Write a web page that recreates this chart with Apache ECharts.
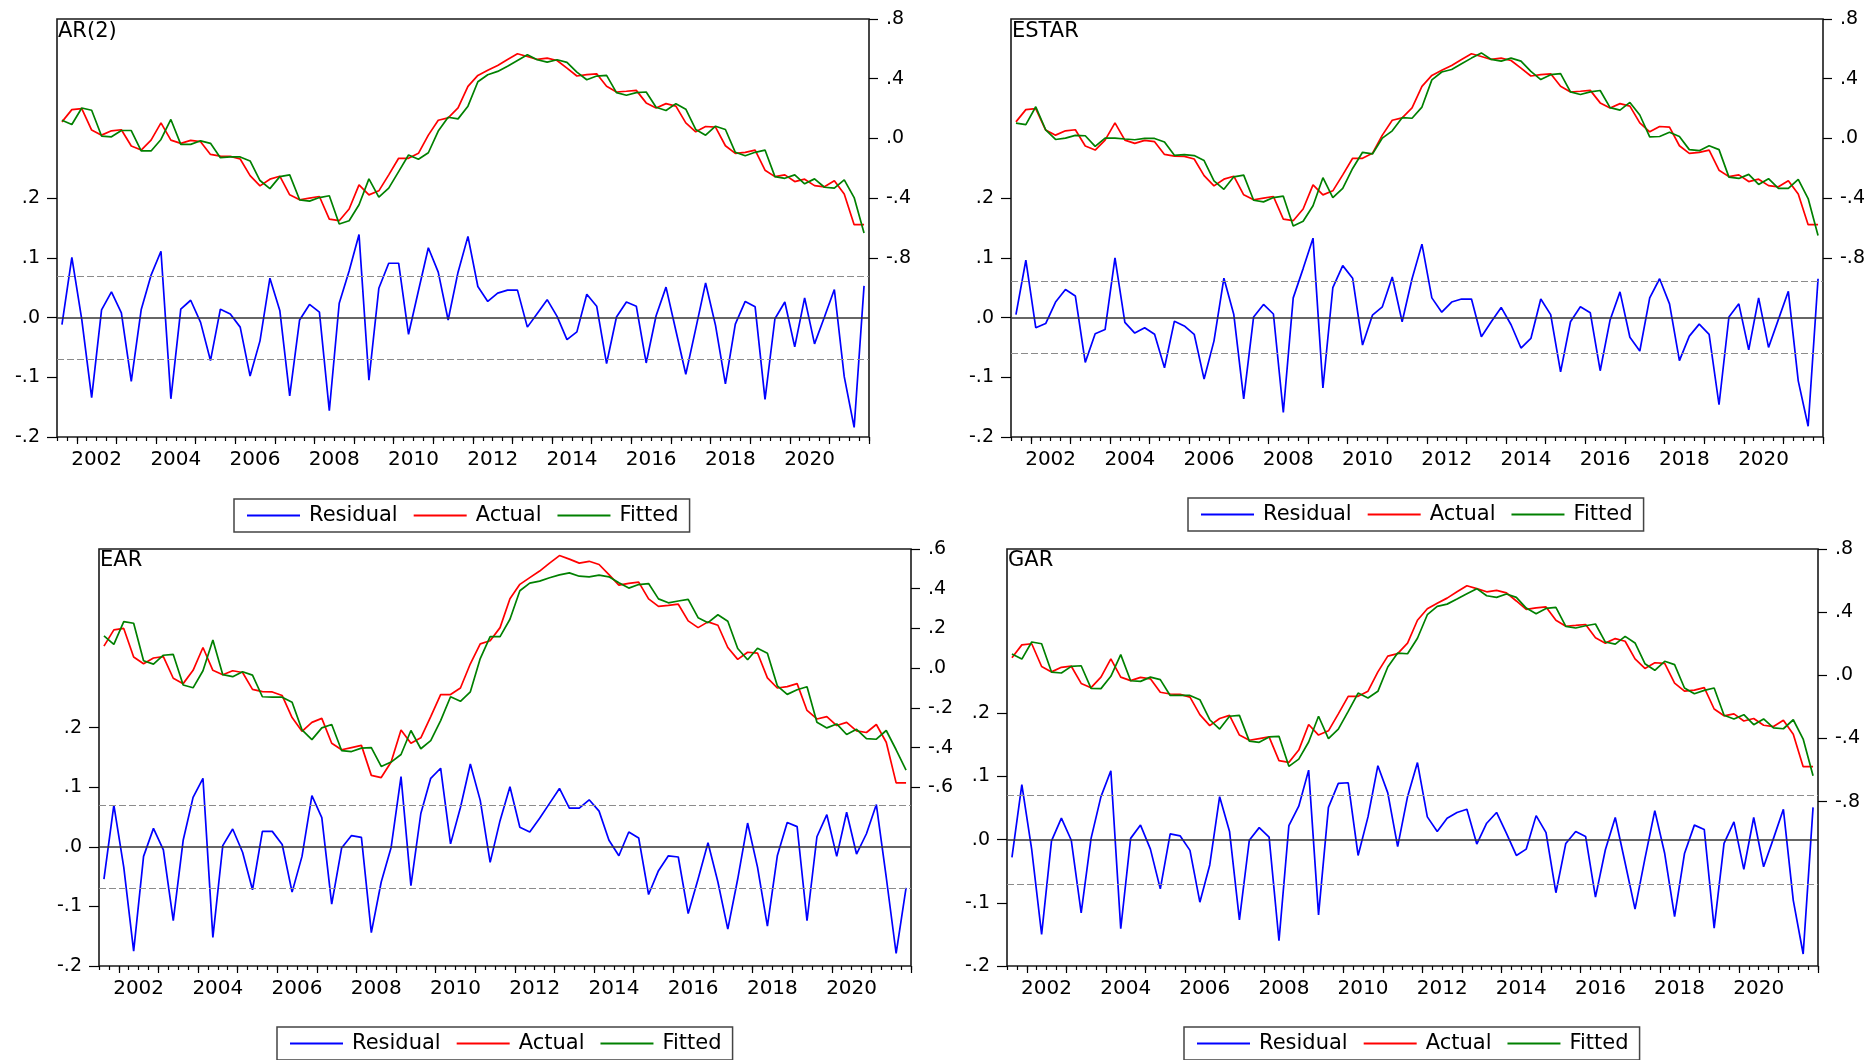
<!DOCTYPE html>
<html>
<head>
<meta charset="utf-8">
<script src="https://cdn.jsdelivr.net/npm/echarts@6/dist/echarts.min.js"></script>
<style>
  html, body { margin: 0; padding: 0; background: #fff; }
  #chart { width: 1869px; height: 1060px; }
</style>
</head>
<body>
<div id="chart"></div>
<script>
// Quarterly sample 2001Q3 - 2021Q4 (82 observations)
const FIRST_YEAR = 2001;
const FIRST_QUARTER = 3;
const N_OBS = 82;

const MODEL_NAMES = ['AR(2)', 'ESTAR', 'EAR', 'GAR'];
const SERIES_NAMES = ['Residual', 'Actual', 'Fitted'];

// Dependent variable (same in every model)
const ACTUAL = [
  0.111, 0.193, 0.200, 0.056, 0.022, 0.051, 0.058, -0.051, -0.078, -0.011,
  0.104, -0.011, -0.033, -0.013, -0.022, -0.107, -0.118, -0.120, -0.138, -0.249,
  -0.318, -0.273, -0.253, -0.378, -0.411, -0.400, -0.389, -0.540, -0.551, -0.473,
  -0.311, -0.378, -0.351, -0.244, -0.133, -0.133, -0.100, 0.022, 0.122, 0.138,
  0.204, 0.349, 0.422, 0.456, 0.489, 0.529, 0.567, 0.549, 0.529, 0.538,
  0.522, 0.471, 0.418, 0.427, 0.433, 0.349, 0.311, 0.316, 0.322, 0.238,
  0.204, 0.233, 0.216, 0.104, 0.044, 0.080, 0.076, -0.049, -0.100, -0.093,
  -0.078, -0.213, -0.256, -0.244, -0.289, -0.273, -0.316, -0.324, -0.284, -0.373,
  -0.578, -0.578
];

const FITTED_AR2 = [
  0.122, 0.093, 0.204, 0.189, 0.016, 0.011, 0.053, 0.053, -0.084, -0.084,
  -0.007, 0.127, -0.040, -0.040, -0.016, -0.033, -0.129, -0.124, -0.124, -0.151,
  -0.282, -0.336, -0.256, -0.244, -0.411, -0.420, -0.396, -0.384, -0.573, -0.551,
  -0.444, -0.271, -0.393, -0.333, -0.222, -0.111, -0.140, -0.096, 0.049, 0.142,
  0.131, 0.216, 0.380, 0.427, 0.449, 0.484, 0.522, 0.560, 0.527, 0.511,
  0.527, 0.509, 0.444, 0.393, 0.418, 0.422, 0.307, 0.289, 0.307, 0.311,
  0.209, 0.187, 0.233, 0.196, 0.060, 0.022, 0.082, 0.060, -0.093, -0.116,
  -0.093, -0.078, -0.256, -0.267, -0.244, -0.304, -0.271, -0.327, -0.333, -0.278,
  -0.396, -0.633
];
const RESIDUAL_AR2 = [
  -0.012, 0.101, -0.003, -0.134, 0.013, 0.043, 0.008, -0.107, 0.013, 0.071,
  0.111, -0.136, 0.014, 0.029, -0.008, -0.072, 0.014, 0.006, -0.016, -0.098,
  -0.039, 0.066, 0.012, -0.131, -0.004, 0.022, 0.009, -0.156, 0.024, 0.078,
  0.139, -0.105, 0.049, 0.091, 0.091, -0.028, 0.045, 0.117, 0.076, -0.004,
  0.076, 0.136, 0.052, 0.027, 0.041, 0.046, 0.046, -0.016, 0.007, 0.030,
  0.002, -0.037, -0.024, 0.039, 0.019, -0.077, 0.001, 0.026, 0.019, -0.076,
  0.003, 0.051, -0.022, -0.095, -0.019, 0.058, -0.013, -0.111, -0.011, 0.027,
  0.018, -0.137, -0.002, 0.026, -0.049, 0.033, -0.044, 0.001, 0.047, -0.099,
  -0.184, 0.053
];

const FITTED_ESTAR = [
  0.102, 0.093, 0.212, 0.058, -0.007, 0.002, 0.020, 0.018, -0.053, 0.002,
  0.002, -0.004, -0.009, 0.000, 0.000, -0.024, -0.113, -0.108, -0.115, -0.148,
  -0.285, -0.341, -0.257, -0.246, -0.414, -0.425, -0.396, -0.387, -0.586, -0.555,
  -0.451, -0.263, -0.396, -0.334, -0.201, -0.093, -0.104, 0.002, 0.051, 0.139,
  0.135, 0.210, 0.392, 0.445, 0.462, 0.500, 0.538, 0.573, 0.529, 0.518,
  0.538, 0.518, 0.449, 0.394, 0.427, 0.434, 0.312, 0.294, 0.312, 0.321,
  0.206, 0.190, 0.241, 0.157, 0.011, 0.013, 0.042, 0.013, -0.075, -0.082,
  -0.049, -0.075, -0.259, -0.268, -0.241, -0.308, -0.270, -0.334, -0.334, -0.274,
  -0.403, -0.650
];
const RESIDUAL_ESTAR = [
  0.005, 0.096, -0.017, -0.010, 0.026, 0.047, 0.036, -0.075, -0.027, -0.020,
  0.100, -0.008, -0.026, -0.017, -0.028, -0.084, -0.006, -0.014, -0.028, -0.103,
  -0.039, 0.066, 0.005, -0.136, 0.001, 0.022, 0.006, -0.159, 0.033, 0.082,
  0.133, -0.118, 0.050, 0.087, 0.066, -0.046, 0.004, 0.018, 0.068, -0.007,
  0.065, 0.123, 0.033, 0.009, 0.026, 0.031, 0.031, -0.032, -0.007, 0.017,
  -0.012, -0.051, -0.035, 0.031, 0.005, -0.091, -0.007, 0.018, 0.008, -0.089,
  -0.004, 0.043, -0.033, -0.056, 0.033, 0.065, 0.023, -0.072, -0.031, -0.011,
  -0.028, -0.146, 0.001, 0.023, -0.054, 0.033, -0.050, -0.003, 0.044, -0.106,
  -0.182, 0.065
];

const FITTED_EAR = [
  0.162, 0.120, 0.234, 0.226, 0.037, 0.020, 0.065, 0.069, -0.085, -0.099,
  -0.013, 0.142, -0.033, -0.043, -0.018, -0.035, -0.144, -0.146, -0.146, -0.172,
  -0.311, -0.360, -0.301, -0.284, -0.415, -0.420, -0.403, -0.400, -0.495, -0.473,
  -0.435, -0.314, -0.406, -0.365, -0.264, -0.144, -0.167, -0.119, 0.048, 0.159,
  0.159, 0.246, 0.390, 0.428, 0.438, 0.455, 0.470, 0.480, 0.463, 0.460,
  0.468, 0.460, 0.430, 0.403, 0.421, 0.426, 0.349, 0.329, 0.338, 0.346,
  0.254, 0.229, 0.269, 0.236, 0.099, 0.042, 0.100, 0.075, -0.089, -0.132,
  -0.109, -0.094, -0.273, -0.301, -0.281, -0.334, -0.308, -0.355, -0.358, -0.314,
  -0.411, -0.513
];
const RESIDUAL_EAR = [
  -0.054, 0.070, -0.034, -0.175, -0.016, 0.031, -0.005, -0.124, 0.011, 0.083,
  0.115, -0.152, 0.002, 0.030, -0.009, -0.072, 0.026, 0.026, 0.004, -0.076,
  -0.016, 0.086, 0.049, -0.096, -0.002, 0.019, 0.016, -0.144, -0.059, -0.001,
  0.118, -0.065, 0.056, 0.115, 0.132, 0.005, 0.066, 0.139, 0.078, -0.026,
  0.044, 0.101, 0.033, 0.025, 0.048, 0.073, 0.098, 0.065, 0.065, 0.079,
  0.060, 0.011, -0.015, 0.025, 0.015, -0.080, -0.040, -0.015, -0.017, -0.112,
  -0.054, 0.007, -0.059, -0.138, -0.054, 0.040, -0.034, -0.133, -0.015, 0.041,
  0.034, -0.124, 0.017, 0.054, -0.016, 0.058, -0.012, 0.022, 0.071, -0.051,
  -0.179, -0.069
];

const FITTED_GAR = [
  0.135, 0.103, 0.211, 0.200, 0.021, 0.015, 0.057, 0.061, -0.082, -0.084,
  -0.006, 0.131, -0.034, -0.038, -0.011, -0.027, -0.127, -0.127, -0.127, -0.154,
  -0.281, -0.340, -0.259, -0.253, -0.416, -0.424, -0.390, -0.386, -0.576, -0.530,
  -0.422, -0.259, -0.401, -0.340, -0.228, -0.112, -0.143, -0.101, 0.053, 0.141,
  0.137, 0.235, 0.384, 0.437, 0.451, 0.483, 0.517, 0.549, 0.504, 0.494,
  0.515, 0.494, 0.426, 0.390, 0.424, 0.430, 0.310, 0.300, 0.314, 0.325,
  0.211, 0.198, 0.247, 0.205, 0.074, 0.032, 0.089, 0.068, -0.080, -0.116,
  -0.095, -0.080, -0.253, -0.276, -0.249, -0.312, -0.276, -0.333, -0.338, -0.281,
  -0.403, -0.635
];
const RESIDUAL_GAR = [
  -0.028, 0.087, -0.016, -0.150, -0.002, 0.034, -0.001, -0.116, 0.002, 0.068,
  0.109, -0.141, 0.002, 0.023, -0.015, -0.078, 0.009, 0.006, -0.017, -0.099,
  -0.040, 0.068, 0.013, -0.127, -0.001, 0.019, 0.004, -0.160, 0.022, 0.053,
  0.110, -0.119, 0.051, 0.089, 0.090, -0.025, 0.036, 0.117, 0.074, -0.011,
  0.068, 0.122, 0.036, 0.013, 0.034, 0.043, 0.048, -0.007, 0.026, 0.043,
  0.010, -0.025, -0.015, 0.038, 0.011, -0.084, -0.006, 0.013, 0.005, -0.091,
  -0.016, 0.035, -0.037, -0.110, -0.030, 0.046, -0.022, -0.122, -0.022, 0.023,
  0.016, -0.140, -0.006, 0.028, -0.047, 0.035, -0.043, 0.002, 0.048, -0.096,
  -0.181, 0.051
];

const FITTED = [FITTED_AR2, FITTED_ESTAR, FITTED_EAR, FITTED_GAR];
const RESIDUALS = [RESIDUAL_AR2, RESIDUAL_ESTAR, RESIDUAL_EAR, RESIDUAL_GAR];

// +/- one standard error band of the residuals
const RESIDUAL_SD = [0.068, 0.063, 0.073, 0.069];

// Axis tick labels
const LEFT_TICKS = [-0.2, -0.1, 0, 0.1, 0.2];
const RIGHT_TICKS = [
  [-0.8, -0.4, 0, 0.4, 0.8],
  [-0.8, -0.4, 0, 0.4, 0.8],
  [-0.6, -0.4, -0.2, 0, 0.2, 0.4, 0.6],
  [-0.8, -0.4, 0, 0.4, 0.8]
];
const YEAR_LABELS = [2002, 2004, 2006, 2008, 2010, 2012, 2014, 2016, 2018, 2020];

// ---- layout (pixels) ----
const PANELS = [
  { left: 57,   top: 19,  width: 812, height: 418, leftRange: [-0.2, 0.5],  rightRange: [-2.0, 0.8],  legend: [234, 499],  title: [58, 21] },
  { left: 1011, top: 19,  width: 812, height: 418, leftRange: [-0.2, 0.5],  rightRange: [-2.0, 0.8],  legend: [1188, 498], title: [1012, 21] },
  { left: 99,   top: 549, width: 812, height: 417, leftRange: [-0.2, 0.5],  rightRange: [-1.5, 0.6],  legend: [277, 1027], title: [100, 550] },
  { left: 1007, top: 549, width: 811, height: 417, leftRange: [-0.2, 0.46], rightRange: [-1.84, 0.8], legend: [1184, 1027], title: [1008, 550] }
];

const FONT = 'DejaVu Sans';
const COLORS = { Residual: '#0000ff', Actual: '#ff0000', Fitted: '#008000' };

// Quarter labels and their mid-period positions on a continuous time scale
const quarters = [];
const quarterPos = [];
for (let k = 0; k < N_OBS; k++) {
  const q0 = (FIRST_QUARTER - 1) + k;
  const year = FIRST_YEAR + Math.floor(q0 / 4);
  const q = (q0 % 4) + 1;
  quarters.push(year + 'Q' + q);
  quarterPos.push(year + (q - 0.5) / 4);
}
const X_MIN = FIRST_YEAR + (FIRST_QUARTER - 1) / 4;
const X_MAX = X_MIN + N_OBS / 4;
const quarterTicks = [];
for (let k = 0; k <= N_OBS; k++) quarterTicks.push(X_MIN + k / 4);
const yearTicks = [];
for (let y = Math.ceil(X_MIN); y <= X_MAX; y++) yearTicks.push(y);
const yearLabelPos = YEAR_LABELS.map(y => y + 0.5);

function decimalLabel(v) {
  const a = Math.abs(v).toFixed(1).replace(/^0/, '');
  return (v < -1e-9 ? '-' : '') + a;
}
const pairs = arr => arr.map((v, i) => [quarterPos[i], v]);

const option = {
  backgroundColor: '#ffffff',
  animation: false,
  title: [], legend: [], grid: [], xAxis: [], yAxis: [], series: []
};

PANELS.forEach((p, i) => {
  option.grid.push({
    left: p.left, top: p.top, width: p.width, height: p.height,
    show: true, borderColor: '#1a1a1a', borderWidth: 1.6, backgroundColor: 'transparent'
  });

  option.title.push({
    text: MODEL_NAMES[i], left: p.title[0], top: p.title[1], padding: 0,
    textStyle: { fontFamily: FONT, fontSize: 21, fontWeight: 'normal', color: '#000' }
  });

  option.legend.push({
    data: SERIES_NAMES, left: p.legend[0], top: p.legend[1], orient: 'horizontal',
    selectedMode: false, icon: 'rect', itemWidth: 53, itemHeight: 2, itemGap: 16,
    padding: [6, 11, 6, 13], borderColor: '#444', borderWidth: 1.5, backgroundColor: '#fff',
    textStyle: { fontFamily: FONT, fontSize: 21, color: '#000', padding: [0, 0, 0, 4] }
  });

  // quarter ticks + year labels
  option.xAxis.push({
    type: 'value', gridIndex: i, min: X_MIN, max: X_MAX, position: 'bottom',
    axisLine: { show: false, onZero: false },
    splitLine: { show: false },
    axisTick: { show: true, customValues: quarterTicks, length: 4, lineStyle: { color: '#000', width: 1.2 } },
    axisLabel: {
      show: true, customValues: yearLabelPos, margin: 13,
      fontFamily: FONT, fontSize: 20, color: '#000',
      formatter: v => String(Math.floor(v))
    }
  });
  // longer ticks at year boundaries
  option.xAxis.push({
    type: 'value', gridIndex: i, min: X_MIN, max: X_MAX, position: 'bottom',
    axisLine: { show: false, onZero: false },
    splitLine: { show: false },
    axisTick: { show: true, customValues: yearTicks, length: 7, lineStyle: { color: '#000', width: 1.2 } },
    axisLabel: { show: false }
  });

  // residual scale (left)
  option.yAxis.push({
    type: 'value', gridIndex: i, position: 'left', min: p.leftRange[0], max: p.leftRange[1],
    axisLine: { show: false },
    splitLine: { show: false },
    axisTick: { show: true, customValues: LEFT_TICKS, length: 10, lineStyle: { color: '#000', width: 1.2 } },
    axisLabel: { show: true, customValues: LEFT_TICKS, margin: 17, fontFamily: FONT, fontSize: 19, color: '#000', formatter: decimalLabel }
  });
  // actual / fitted scale (right)
  option.yAxis.push({
    type: 'value', gridIndex: i, position: 'right', min: p.rightRange[0], max: p.rightRange[1],
    axisLine: { show: false },
    splitLine: { show: false },
    axisTick: { show: true, customValues: RIGHT_TICKS[i], length: 9, lineStyle: { color: '#000', width: 1.2 } },
    axisLabel: { show: true, customValues: RIGHT_TICKS[i], margin: 17, fontFamily: FONT, fontSize: 19, color: '#000', formatter: decimalLabel }
  });

  const xIdx = 2 * i, yLeft = 2 * i, yRight = 2 * i + 1;
  const sd = RESIDUAL_SD[i];

  // zero line and standard-error band
  option.series.push({
    type: 'line', name: 'band' + i, xAxisIndex: xIdx, yAxisIndex: yLeft, data: [], z: 1,
    silent: true,
    markLine: {
      silent: true, symbol: 'none', animation: false, label: { show: false },
      data: [
        { yAxis: 0, lineStyle: { color: '#333', width: 1.5, type: 'solid' } },
        { yAxis: sd, lineStyle: { color: '#8c8c8c', width: 1.2, type: [7, 3] } },
        { yAxis: -sd, lineStyle: { color: '#8c8c8c', width: 1.2, type: [7, 3] } }
      ]
    }
  });

  const lineSeries = (name, yAxisIndex, values, z) => ({
    type: 'line', name, xAxisIndex: xIdx, yAxisIndex, data: pairs(values),
    symbol: 'none', showSymbol: false, z,
    lineStyle: { color: COLORS[name], width: 1.7 },
    itemStyle: { color: COLORS[name] }
  });
  option.series.push(lineSeries('Residual', yLeft, RESIDUALS[i], 3));
  option.series.push(lineSeries('Actual', yRight, ACTUAL, 3));
  option.series.push(lineSeries('Fitted', yRight, FITTED[i], 4));
});

const chart = echarts.init(document.getElementById('chart'), null, { renderer: 'canvas' });
chart.setOption(option);
</script>
</body>
</html>
